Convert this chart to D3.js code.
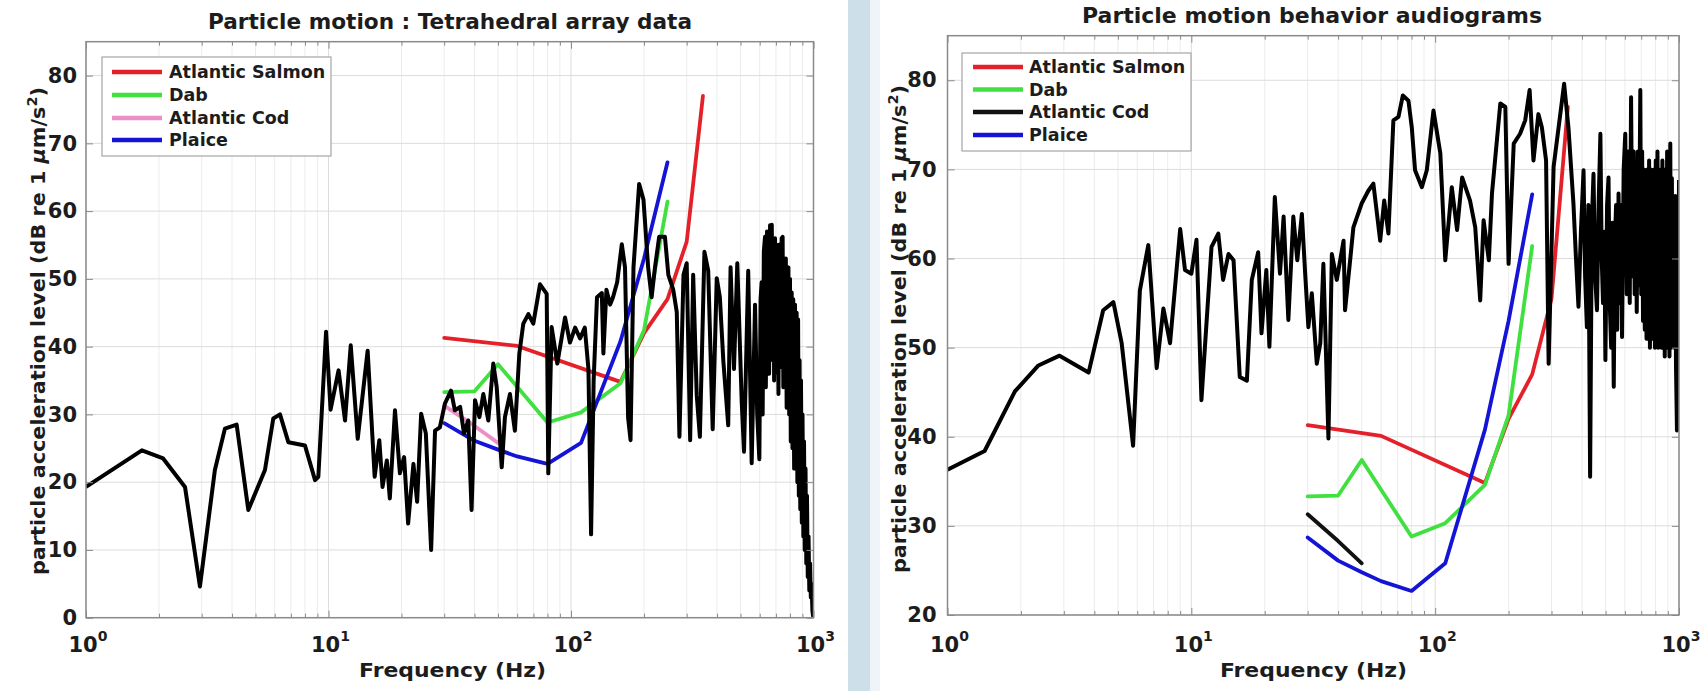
<!DOCTYPE html>
<html>
<head>
<meta charset="utf-8">
<script src="https://cdn.jsdelivr.net/npm/d3@7"></script>
<style>
  body { margin: 0; background: #ffffff; }
  svg { display: block; }
  text { font-family: "DejaVu Sans", sans-serif; font-weight: bold; fill: #1c1c1c; }
</style>
</head>
<body>
<svg id="chart" width="1705" height="691"></svg>
<script>
// ---------------- DATA ----------------
const xTickExponents = [0, 1, 2, 3];
const leftYTicks = [0, 10, 20, 30, 40, 50, 60, 70, 80];
const rightYTicks = [20, 30, 40, 50, 60, 70, 80];
const legendNames = ["Atlantic Salmon", "Dab", "Atlantic Cod", "Plaice"];

// Audiograms (shared by both panels)
const salmonFreq = [30, 60, 160, 200, 250, 300, 350];
const salmonLevel = [41.3, 40.1, 34.8, 42.0, 47.0, 55.5, 77.0];
const dabFreq = [30, 40, 50, 80, 110, 160, 200, 250];
const dabLevel = [33.3, 33.4, 37.4, 28.8, 30.3, 34.6, 42.4, 61.4];
const codFreq = [30, 40, 50];
const codLevel = [31.3, 28.3, 25.8];
const plaiceFreq = [30, 40, 50, 60, 80, 110, 160, 200, 250];
const plaiceLevel = [28.7, 26.1, 24.8, 23.8, 22.7, 25.8, 40.8, 53.0, 67.2];

// Tetrahedral array particle motion spectrum (left panel)
const tetraFreq = [1, 1.7, 2.08, 2.56, 2.95, 3.4, 3.74, 4.18, 4.67, 5.47, 5.92, 6.31, 6.83, 8.0, 8.8, 9.08, 9.77, 10.2, 11.0, 11.7,
  12.35, 13.2, 14.5, 15.5, 16.2, 16.7, 17.4, 17.9, 18.8, 19.7, 20.5, 21.3, 22.4, 23.2, 24.1, 25.2, 26.5, 27.5, 28.8, 30.2,
  32.0, 33.2, 34.9, 36.2, 37.7, 38.9, 40.2, 41.9, 43.5, 45.6, 47.8, 49.4, 51.8, 53.4, 56.0, 58.7, 61.2, 63.6, 66.7, 69.9,
  74.5, 79.4, 80.6, 83.2, 87.8, 94.5, 99, 104, 109, 114, 118, 121, 124, 128, 134, 136, 140, 145, 149, 155,
  162, 167, 172, 176, 181, 191, 199, 208, 215, 222, 231, 244, 252, 264, 273, 280, 291, 300, 310, 319,
  330, 340, 355, 368, 384, 399, 411, 425, 445, 455, 470, 485, 506, 517, 538, 556, 574, 586, 598, 605,
  611, 617, 624, 631, 636, 643, 650, 656, 662, 667, 673, 679, 683, 688, 694, 700, 705, 711, 717, 722,
  728, 733, 739, 746, 751, 757, 763, 769, 775, 781, 788, 794, 800, 806, 813, 819, 825, 832, 839, 845,
  852, 858, 864, 870, 876, 882, 888, 895, 901, 908, 914, 920, 927, 934, 940, 947, 954, 961, 968, 975,
  982, 990, 998];
const tetraLevel = [19.3, 24.7, 23.5, 19.3, 4.6, 21.8, 27.9, 28.5, 15.9, 21.8, 29.4, 30.0, 25.9, 25.4, 20.3, 20.8, 42.2, 30.7, 36.5, 29.1,
  40.2, 26.4, 39.4, 20.8, 26.2, 19.3, 23.2, 17.6, 30.6, 21.3, 23.7, 13.9, 22.7, 17.1, 30.1, 27.2, 10.0, 27.6, 28.1, 31.6,
  33.5, 30.6, 31.1, 27.2, 29.1, 15.9, 32.1, 29.6, 33.0, 29.1, 37.5, 34.0, 22.2, 29.6, 33.0, 27.6, 38.9, 43.4, 44.8, 43.4,
  49.2, 47.8, 21.3, 42.9, 37.5, 44.3, 40.6, 42.8, 41.2, 42.8, 36.7, 12.3, 35.1, 47.3, 47.9, 39.0, 48.4, 46.2, 47.3, 49.5,
  55.1, 51.7, 29.5, 26.2, 51.7, 64.0, 61.7, 51.7, 47.3, 51.7, 56.2, 56.2, 50.6, 48.4, 45.1, 26.7, 50.6, 52.3, 26.2, 50.6,
  32.8, 26.7, 54.0, 51.2, 27.8, 50.1, 47.3, 37.8, 28.4, 51.7, 36.7, 52.3, 31.7, 24.5, 51.2, 22.8, 46.2, 30.0, 23.4, 47.0,
  49.5, 30.0, 54.0, 56.2, 34.0, 57.0, 55.0, 36.0, 57.9, 40.0, 58.0, 38.0, 55.6, 35.0, 56.0, 39.0, 36.2, 55.0, 33.0, 54.0,
  55.1, 37.0, 56.0, 56.2, 34.0, 52.0, 41.7, 53.0, 31.0, 51.0, 51.7, 30.0, 50.0, 26.0, 48.0, 25.0, 47.0, 22.0, 46.2, 24.0,
  45.0, 20.0, 44.0, 18.0, 38.0, 16.0, 35.0, 14.0, 30.0, 12.0, 26.0, 10.0, 22.0, 8.0, 18.0, 6.0, 12.0, 4.0, 8.0, 3.0,
  5.0, 1.0, 0.0];

// Behaviour audiogram ambient spectrum (right panel)
const behavFreq = [1, 1.42, 1.89, 2.36, 2.88, 3.79, 4.35, 4.79, 5.18, 5.77, 6.15, 6.66, 7.21, 7.68, 8.18, 9.0, 9.42, 10.0, 10.5, 11.0,
  12.1, 12.9, 13.5, 14.2, 14.9, 15.8, 16.9, 17.7, 18.8, 19.4, 20.3, 20.9, 22.0, 23.1, 23.9, 25.0, 26.2, 27.2, 28.4, 29.3,
  30.2, 31.2, 32.7, 33.8, 34.8, 36.5, 37.7, 39.5, 42.1, 42.7, 44.8, 46.2, 50.0, 53.2, 55.8, 59.5, 61.8, 64.3, 67.4, 70.7,
  73.7, 77.7, 80.2, 82.7, 88.2, 92.4, 98.4, 105, 110, 117, 123, 129, 139, 146, 153, 158, 166, 171, 185, 194,
  200, 210, 223, 234, 244, 253, 265, 274, 285, 292, 306, 338, 352, 369, 378, 387, 396, 406, 412, 419,
  425, 432, 439, 446, 453, 461, 468, 476, 482, 488, 494, 499, 507, 514, 520, 527, 533, 540, 546, 552,
  558, 565, 570, 575, 580, 584, 593, 602, 611, 620, 628, 636, 644, 652, 658,
  665, 671, 678, 684, 694, 700, 706, 712, 718, 724, 730, 736, 742, 748, 754, 760, 766, 772, 779, 785,
  791, 797, 803, 810, 816, 822, 829, 835, 842, 848, 855, 861, 868, 874, 881, 887, 894, 900, 907, 914,
  921, 928, 935, 942, 950, 957, 965, 972, 981, 988, 994, 1000];
const behavLevel = [36.3, 38.4, 45.1, 48.0, 49.1, 47.2, 54.2, 55.1, 50.5, 39.0, 56.4, 61.5, 47.7, 54.4, 50.5, 63.3, 58.7, 58.3, 62.1, 44.1,
  61.3, 62.8, 57.6, 60.5, 59.8, 46.7, 46.3, 57.6, 60.7, 51.6, 58.7, 50.1, 66.9, 58.3, 64.7, 53.1, 64.7, 59.8, 65.0, 58.3,
  52.3, 56.1, 48.2, 50.5, 59.4, 39.8, 60.5, 57.6, 62.0, 54.2, 59.8, 63.5, 66.2, 67.6, 68.4, 62.0, 66.5, 62.8, 75.5, 75.9,
  78.3, 77.7, 74.7, 69.9, 68.0, 69.9, 76.6, 71.8, 59.8, 68.0, 63.2, 69.1, 66.5, 63.5, 55.3, 64.3, 59.8, 67.3, 77.4, 77.0,
  59.4, 72.9, 74.0, 75.5, 78.9, 71.0, 76.2, 74.7, 71.0, 48.2, 70.3, 79.6, 74.7, 66.2, 60.0, 54.6, 63.0, 69.9, 58.0, 52.3,
  66.0, 35.5, 64.0, 69.5, 58.0, 54.2, 66.0, 74.0, 60.0, 55.0, 63.0, 48.6, 66.0, 69.1, 55.0, 50.0, 64.0, 45.6, 62.0, 66.0,
  52.0, 67.3, 58.0, 55.0, 66.0, 51.2, 70.0, 74.0, 56.0, 72.0, 55.0, 78.1, 58.0, 72.0, 56.0,
  70.0, 54.0, 72.0, 57.0, 78.9, 56.0, 72.0, 53.0, 70.0, 52.0, 69.0, 51.0, 70.0, 52.0, 71.0, 50.0, 70.0, 51.0, 69.0, 52.0,
  70.0, 50.0, 71.0, 51.0, 72.0, 50.0, 69.0, 52.0, 70.0, 50.0, 71.0, 51.0, 70.0, 49.0, 69.0, 50.0, 72.0, 51.0, 70.0, 49.0,
  72.9, 50.0, 69.0, 52.0, 66.0, 50.0, 67.0, 48.0, 40.7, 60.0, 52.0, 68.8];

// ---------------- DRAWING ----------------
const svg = d3.select("#chart");
const zip = (a, b) => a.map((v, i) => [v, b[i]]);

// light-blue separator between the two figures
svg.append("rect").attr("x", 870).attr("y", 0).attr("width", 10).attr("height", 691).attr("fill", "#eef4f8");
svg.append("rect").attr("x", 848).attr("y", 0).attr("width", 22).attr("height", 691).attr("fill", "#cddfe9");

const panels = [
  { id: "L", x0: 86, x1: 813.5, y0: 617.7, y1: 41.7, ydom: [0, 85], yTicks: leftYTicks,
    title: "Particle motion : Tetrahedral array data", titleX: 450, titleY: 29, titleLen: 484,
    xlabX: 452.6, ylabX: 45, ylabY: 331, tickPad: 9,
    noiseF: tetraFreq, noiseV: tetraLevel, codColor: "#ec8fc8",
    legend: { x: 102, y: 57, w: 229, h: 99, lx0: 112, lx1: 162, tx: 169, rows: [72, 95, 118, 140] } },
  { id: "R", x0: 947.5, x1: 1679, y0: 615, y1: 35.7, ydom: [20, 85], yTicks: rightYTicks,
    title: "Particle motion behavior audiograms", titleX: 1312, titleY: 23, titleLen: 460,
    xlabX: 1313.5, ylabX: 906, ylabY: 329, tickPad: 11,
    noiseF: behavFreq, noiseV: behavLevel, codColor: "#111111",
    legend: { x: 962, y: 53, w: 229, h: 98, lx0: 973, lx1: 1023, tx: 1029, rows: [67, 89.5, 112, 135] } }
];

panels.forEach(p => {
  const g = svg.append("g");
  const x = d3.scaleLog().domain([1, 1000]).range([p.x0, p.x1]);
  const y = d3.scaleLinear().domain(p.ydom).range([p.y0, p.y1]);
  const majors = xTickExponents.map(e => Math.pow(10, e));
  const minors = [];
  for (let e = 0; e < 3; e++) for (let m = 2; m <= 9; m++) minors.push(m * Math.pow(10, e));

  g.append("rect").attr("x", p.x0).attr("y", p.y1).attr("width", p.x1 - p.x0).attr("height", p.y0 - p.y1).attr("fill", "#fff");

  // grid
  g.append("g").selectAll("line").data(minors).join("line")
    .attr("x1", d => x(d)).attr("x2", d => x(d)).attr("y1", p.y0).attr("y2", p.y1)
    .attr("stroke", "#ececec").attr("stroke-width", 1);
  g.append("g").selectAll("line").data(majors).join("line")
    .attr("x1", d => x(d)).attr("x2", d => x(d)).attr("y1", p.y0).attr("y2", p.y1)
    .attr("stroke", "#dcdcdc").attr("stroke-width", 1);
  g.append("g").selectAll("line").data(p.yTicks).join("line")
    .attr("x1", p.x0).attr("x2", p.x1).attr("y1", d => y(d)).attr("y2", d => y(d))
    .attr("stroke", "#dcdcdc").attr("stroke-width", 1);

  const clipId = "clip" + p.id;
  svg.append("defs").append("clipPath").attr("id", clipId).append("rect")
    .attr("x", p.x0).attr("y", p.y1).attr("width", p.x1 - p.x0).attr("height", p.y0 - p.y1);
  const plot = g.append("g").attr("clip-path", `url(#${clipId})`);
  const line = d3.line().x(d => x(d[0])).y(d => y(d[1]));

  const series = [
    { f: salmonFreq, v: salmonLevel, c: "#e4212a" },
    { f: dabFreq, v: dabLevel, c: "#3fe03f" },
    { f: codFreq, v: codLevel, c: p.codColor },
    { f: plaiceFreq, v: plaiceLevel, c: "#1414d6" }
  ];
  series.forEach(s => {
    plot.append("path").datum(zip(s.f, s.v)).attr("d", line)
      .attr("fill", "none").attr("stroke", s.c).attr("stroke-width", 3.8)
      .attr("stroke-linejoin", "round").attr("stroke-linecap", "round");
  });
  plot.append("path").datum(zip(p.noiseF, p.noiseV)).attr("d", line)
    .attr("fill", "none").attr("stroke", "#000").attr("stroke-width", 4)
    .attr("stroke-linejoin", "round");

  // axes (inward ticks on all four sides)
  const allX = majors.concat(minors);
  const axB = g.append("g").attr("transform", `translate(0,${p.y0})`)
    .call(d3.axisBottom(x).tickValues(allX).tickSizeInner(-7).tickSizeOuter(0).tickFormat(() => ""));
  const axT = g.append("g").attr("transform", `translate(0,${p.y1})`)
    .call(d3.axisTop(x).tickValues(allX).tickSizeInner(-7).tickSizeOuter(0).tickFormat(() => ""));
  axB.selectAll(".tick line").filter(d => minors.includes(d)).attr("y2", -4);
  axT.selectAll(".tick line").filter(d => minors.includes(d)).attr("y2", 4);
  const axL = g.append("g").attr("transform", `translate(${p.x0},0)`)
    .call(d3.axisLeft(y).tickValues(p.yTicks).tickSizeInner(-7).tickSizeOuter(0).tickPadding(p.tickPad).tickFormat(d3.format("d")));
  const axR = g.append("g").attr("transform", `translate(${p.x1},0)`)
    .call(d3.axisRight(y).tickValues(p.yTicks).tickSizeInner(-7).tickSizeOuter(0).tickFormat(() => ""));
  [axB, axT, axL, axR].forEach(ax => {
    ax.select(".domain").remove();
    ax.selectAll(".tick line").attr("stroke", "#8a8a8a");
  });
  axL.selectAll(".tick text").style("font-family", '"DejaVu Sans", sans-serif').style("font-weight", "bold")
    .style("font-size", "21px").attr("fill", "#1c1c1c");

  g.append("rect").attr("x", p.x0).attr("y", p.y1).attr("width", p.x1 - p.x0).attr("height", p.y0 - p.y1)
    .attr("fill", "none").attr("stroke", "#8a8a8a").attr("stroke-width", 1.5);

  // x tick labels 10^n
  g.append("g").selectAll("text").data(xTickExponents).join("text")
    .attr("x", d => x(Math.pow(10, d)) + 2).attr("y", 652).attr("text-anchor", "middle")
    .style("font-size", "21px")
    .each(function (d) {
      const t = d3.select(this);
      t.append("tspan").text("10");
      t.append("tspan").attr("dy", -11).style("font-size", "14px").text(d);
    });

  // title
  g.append("text").attr("x", p.titleX).attr("y", p.titleY).attr("text-anchor", "middle")
    .style("font-size", "21px").attr("textLength", p.titleLen).attr("lengthAdjust", "spacingAndGlyphs")
    .text(p.title);

  // x label
  g.append("text").attr("x", p.xlabX).attr("y", 677).attr("text-anchor", "middle")
    .style("font-size", "19.5px").attr("textLength", 187).attr("lengthAdjust", "spacingAndGlyphs")
    .text("Frequency (Hz)");

  // y label
  const yl = g.append("text").attr("transform", `translate(${p.ylabX},${p.ylabY}) rotate(-90)`)
    .attr("text-anchor", "middle").style("font-size", "20px")
    .attr("textLength", 488).attr("lengthAdjust", "spacingAndGlyphs");
  yl.append("tspan").text("particle acceleration level (dB re 1 ");
  yl.append("tspan").style("font-style", "italic").text("\u03bc");
  yl.append("tspan").text("m/s");
  yl.append("tspan").attr("dy", -8).style("font-size", "14px").text("2");
  yl.append("tspan").attr("dy", 8).text(")");

  // legend
  const L = p.legend;
  const lg = g.append("g");
  lg.append("rect").attr("x", L.x).attr("y", L.y).attr("width", L.w).attr("height", L.h)
    .attr("fill", "#fff").attr("stroke", "#a5a5a5").attr("stroke-width", 1.2);
  legendNames.forEach((name, i) => {
    lg.append("line").attr("x1", L.lx0).attr("x2", L.lx1).attr("y1", L.rows[i]).attr("y2", L.rows[i])
      .attr("stroke", series[i].c).attr("stroke-width", 4.5);
    lg.append("text").attr("x", L.tx).attr("y", L.rows[i]).attr("dy", "0.36em")
      .style("font-size", "17.5px").text(name);
  });
});
</script>
</body>
</html>
